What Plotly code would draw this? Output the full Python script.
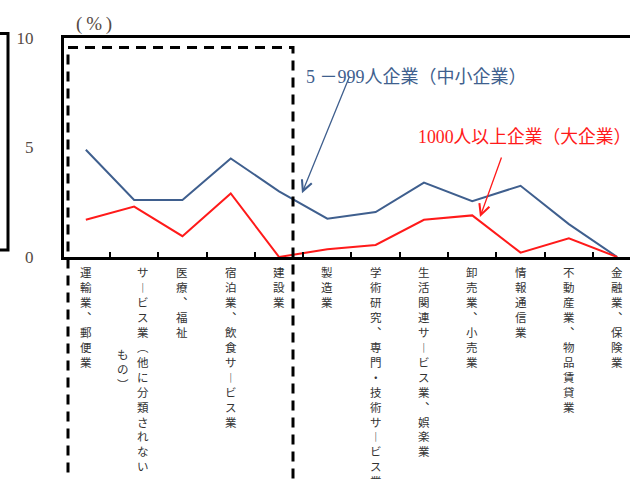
import plotly.graph_objects as go

# Industries along the horizontal axis
categories = [
    "運輸業、郵便業",
    "サービス業（他に分類されないもの）",
    "医療、福祉",
    "宿泊業、飲食サービス業",
    "建設業",
    "製造業",
    "学術研究、専門・技術サービス業",
    "生活関連サービス業、娯楽業",
    "卸売業、小売業",
    "情報通信業",
    "不動産業、物品賃貸業",
    "金融業、保険業",
]

# Share (%) by firm size
sme_values = [4.9, 2.6, 2.6, 4.5, 3.0, 1.75, 2.05, 3.4, 2.55, 3.25, 1.5, 0.0]
large_values = [1.7, 2.3, 0.95, 2.9, 0.0, 0.35, 0.55, 1.7, 1.9, 0.2, 0.85, 0.0]

y_ticks = [0, 5, 10]

sme_name = "5 －999人企業（中小企業）"
large_name = "1000人以上企業（大企業）"

BLUE = "#3f5f8e"
RED = "#ff1a1a"
NUM_COLOR = "#554a44"
JP_FONT = "Noto Sans CJK JP"
SERIF = "Liberation Serif, Noto Sans CJK JP"

W, H = 630, 479
ML, MR, MT, MB = 64, 0, 37.5, 222
PW, PH = W - ML - MR, H - MT - MB


def px(x):
    return (x - ML) / PW


def py(y):
    return (H - MB - y) / PH


VERT = {"、": "︑", "，": "︑", "ー": "︱", "（": "︵", "）": "︶"}


def vertical(text):
    return "<br>".join(VERT.get(c, c) for c in text)


fig = go.Figure()
fig.add_trace(go.Scatter(x=categories, y=sme_values, mode="lines",
                         line=dict(color=BLUE, width=2), name=sme_name))
fig.add_trace(go.Scatter(x=categories, y=large_values, mode="lines",
                         line=dict(color=RED, width=2), name=large_name))

LABEL_FONT = dict(family=JP_FONT, size=11.5, color="#333")

# Vertical category labels under the axis
annotations = []
for name in categories:
    if len(name) > 15:
        first, rest = name[:14], name[14:]
        annotations.append(dict(x=name, xref="x", y=0, yref="paper", yanchor="top",
                                xanchor="center", xshift=9, yshift=-5,
                                text=vertical(first), showarrow=False, font=LABEL_FONT))
        offset = (len(first) - len(rest)) / 2 * 14.95
        annotations.append(dict(x=name, xref="x", y=0, yref="paper", yanchor="top",
                                xanchor="center", xshift=-11, yshift=-5 - offset,
                                text=vertical(rest), showarrow=False, font=LABEL_FONT))
    else:
        annotations.append(dict(x=name, xref="x", y=0, yref="paper", yanchor="top",
                                xanchor="center", yshift=-5,
                                text=vertical(name), showarrow=False, font=LABEL_FONT))

# Unit label
annotations.append(dict(x=px(74), y=py(23), xref="paper", yref="paper", xanchor="left",
                        yanchor="middle", text="(\u2009%\u2009)", showarrow=False,
                        font=dict(family=SERIF, size=19, color=NUM_COLOR)))

# Series labels with pointer arrows
annotations.append(dict(x=px(304), y=py(65), xref="paper", yref="paper", xanchor="left",
                        text=sme_name, showarrow=False,
                        font=dict(family=SERIF, size=18, color=BLUE)))
annotations.append(dict(x=px(416), y=py(137), xref="paper", yref="paper", xanchor="left",
                        text=large_name, showarrow=False,
                        font=dict(family=SERIF, size=17.8, color=RED)))
annotations.append(dict(x=px(302), y=py(193), xref="paper", yref="paper", text="",
                        showarrow=True, ax=48, ay=-118, arrowhead=5, arrowsize=1.6,
                        arrowwidth=1.3, arrowcolor=BLUE))
annotations.append(dict(x=px(480), y=py(217), xref="paper", yref="paper", text="",
                        showarrow=True, ax=22, ay=-61, arrowhead=5, arrowsize=1.6,
                        arrowwidth=1.3, arrowcolor=RED))

shapes = [
    # dashed bracket around the first five industries
    dict(type="path", xref="paper", yref="paper",
         path=f"M{px(68)},{py(490)} L{px(68)},{py(47)} L{px(293)},{py(47)} L{px(293)},{py(490)}",
         line=dict(color="black", width=3, dash="10px,7px")),
    # frame edge on the left margin
    dict(type="path", xref="paper", yref="paper",
         path=f"M{px(-20)},{py(33)} L{px(8)},{py(33)} L{px(8)},{py(250)} L{px(-20)},{py(250)}",
         line=dict(color="black", width=3)),
]

fig.update_layout(
    width=W, height=H,
    margin=dict(l=ML, r=MR, t=MT, b=MB, pad=0),
    paper_bgcolor="white", plot_bgcolor="white",
    showlegend=False,
    annotations=annotations,
    shapes=shapes,
    xaxis=dict(type="category", categoryorder="array", categoryarray=categories,
               range=[-0.452, 11.266], showline=True, linewidth=3, linecolor="black",
               mirror=True, ticks="inside", tickson="boundaries", ticklen=5,
               tickwidth=1.5, tickcolor="black", showticklabels=False,
               showgrid=False, zeroline=False),
    yaxis=dict(range=[0, 10], tickvals=y_ticks, ticktext=[str(v) for v in y_ticks],
               showline=True, linewidth=3, linecolor="black", ticks="",
               ticklabelstandoff=24, showgrid=False, zeroline=False,
               tickfont=dict(family=SERIF, size=17, color=NUM_COLOR)),
)

fig.write_html("out.html")
